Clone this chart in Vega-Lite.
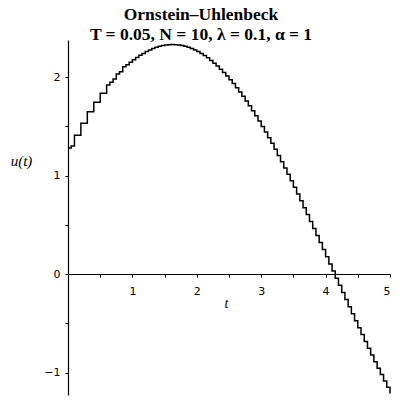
{
  "$schema": "https://vega.github.io/schema/vega-lite/v6.json",
  "width": 322,
  "height": 355,
  "autosize": "none",
  "padding": {"left": 68, "top": 40, "right": 10, "bottom": 5},
  "background": "white",
  "config": {"view": {"stroke": null}, "axis": {"grid": false}},
  "title": {
    "text": "Ornstein–Uhlenbeck",
    "subtitle": "T = 0.05, N = 10, λ = 0.1, α = 1",
    "font": "Liberation Serif",
    "fontSize": 17.5,
    "fontWeight": "bold",
    "color": "black",
    "subtitleFont": "Liberation Serif",
    "subtitleFontSize": 17.5,
    "subtitleFontWeight": "bold",
    "subtitleColor": "black",
    "subtitlePadding": 2,
    "anchor": "middle",
    "dx": -28,
    "offset": -3
  },
  "data": {"values": [
    {"t": 0, "u": 1.28}, {"t": 0.05, "u": 1.30}, {"t": 0.1, "u": 1.41}, {"t": 0.15, "u": 1.41},
    {"t": 0.2, "u": 1.53}, {"t": 0.25, "u": 1.53}, {"t": 0.3, "u": 1.648}, {"t": 0.35, "u": 1.648},
    {"t": 0.4, "u": 1.743}, {"t": 0.45, "u": 1.743}, {"t": 0.5, "u": 1.835}, {"t": 0.55, "u": 1.835},
    {"t": 0.6, "u": 1.919}, {"t": 0.65, "u": 1.946}, {"t": 0.7, "u": 1.98}, {"t": 0.75, "u": 2.03},
    {"t": 0.8, "u": 2.054}, {"t": 0.85, "u": 2.105}, {"t": 0.9, "u": 2.125}, {"t": 0.95, "u": 2.15},
    {"t": 1.0, "u": 2.175}, {"t": 1.05, "u": 2.198}, {"t": 1.1, "u": 2.22}, {"t": 1.15, "u": 2.24},
    {"t": 1.2, "u": 2.258}, {"t": 1.25, "u": 2.275}, {"t": 1.3, "u": 2.289}, {"t": 1.35, "u": 2.302},
    {"t": 1.4, "u": 2.312}, {"t": 1.45, "u": 2.32}, {"t": 1.5, "u": 2.326}, {"t": 1.55, "u": 2.329},
    {"t": 1.6, "u": 2.33}, {"t": 1.65, "u": 2.329}, {"t": 1.7, "u": 2.326}, {"t": 1.75, "u": 2.32},
    {"t": 1.8, "u": 2.312}, {"t": 1.85, "u": 2.302}, {"t": 1.9, "u": 2.289}, {"t": 1.95, "u": 2.275},
    {"t": 2.0, "u": 2.258}, {"t": 2.05, "u": 2.239}, {"t": 2.1, "u": 2.218}, {"t": 2.15, "u": 2.195},
    {"t": 2.2, "u": 2.169}, {"t": 2.25, "u": 2.141}, {"t": 2.3, "u": 2.112}, {"t": 2.35, "u": 2.08},
    {"t": 2.4, "u": 2.047}, {"t": 2.45, "u": 2.011}, {"t": 2.5, "u": 1.973}, {"t": 2.55, "u": 1.934},
    {"t": 2.6, "u": 1.892}, {"t": 2.65, "u": 1.849}, {"t": 2.7, "u": 1.804}, {"t": 2.75, "u": 1.757},
    {"t": 2.8, "u": 1.709}, {"t": 2.85, "u": 1.658}, {"t": 2.9, "u": 1.607}, {"t": 2.95, "u": 1.553},
    {"t": 3.0, "u": 1.498}, {"t": 3.05, "u": 1.442}, {"t": 3.1, "u": 1.384}, {"t": 3.15, "u": 1.327},
    {"t": 3.2, "u": 1.266}, {"t": 3.25, "u": 1.203}, {"t": 3.3, "u": 1.141}, {"t": 3.35, "u": 1.077},
    {"t": 3.4, "u": 1.012}, {"t": 3.45, "u": 0.946}, {"t": 3.5, "u": 0.88}, {"t": 3.55, "u": 0.812},
    {"t": 3.6, "u": 0.744}, {"t": 3.65, "u": 0.674}, {"t": 3.7, "u": 0.605}, {"t": 3.75, "u": 0.534},
    {"t": 3.8, "u": 0.463}, {"t": 3.85, "u": 0.392}, {"t": 3.9, "u": 0.32}, {"t": 3.95, "u": 0.248},
    {"t": 4.0, "u": 0.176}, {"t": 4.05, "u": 0.103}, {"t": 4.1, "u": 0.031}, {"t": 4.15, "u": -0.042},
    {"t": 4.2, "u": -0.114}, {"t": 4.25, "u": -0.187}, {"t": 4.3, "u": -0.259}, {"t": 4.35, "u": -0.331},
    {"t": 4.4, "u": -0.402}, {"t": 4.45, "u": -0.474}, {"t": 4.5, "u": -0.545}, {"t": 4.55, "u": -0.615},
    {"t": 4.6, "u": -0.685}, {"t": 4.65, "u": -0.754}, {"t": 4.7, "u": -0.822}, {"t": 4.75, "u": -0.89},
    {"t": 4.8, "u": -0.956}, {"t": 4.85, "u": -1.021}, {"t": 4.9, "u": -1.086}, {"t": 4.95, "u": -1.15},
    {"t": 5.0, "u": -1.213}
  ]},
  "mark": {"type": "line", "interpolate": "step-after", "color": "black", "strokeWidth": 1.5},
  "encoding": {
    "x": {
      "field": "t", "type": "quantitative",
      "scale": {"domain": [0, 5], "nice": false, "zero": false},
      "axis": {
        "offset": -121,
        "values": [0.5, 1, 1.5, 2, 2.5, 3, 3.5, 4, 4.5, 5],
        "format": "~g",
        "labelExpr": "datum.value % 1 === 0 ? datum.label : ''",
        "tickSize": 3, "tickColor": "black", "domainColor": "black", "domainWidth": 1.2,
        "labelColor": "black", "labelFont": "DejaVu Sans", "labelFontSize": 11, "labelPadding": 8,
        "title": "t", "titleFont": "Liberation Serif", "titleFontStyle": "italic", "titleFontWeight": "normal",
        "titleFontSize": 14, "titleColor": "black", "titleX": 158, "titleY": 29, "titleBaseline": "middle", "titleAlign": "center"
      }
    },
    "y": {
      "field": "u", "type": "quantitative",
      "scale": {"domain": [-1.228, 2.376], "nice": false, "zero": false},
      "axis": {
        "values": [-1, -0.5, 0, 0.5, 1, 1.5, 2],
        "format": "~g",
        "labelExpr": "datum.value % 1 === 0 ? datum.label : ''",
        "tickSize": 3, "tickColor": "black", "domainColor": "black", "domainWidth": 1.2,
        "labelColor": "black", "labelFont": "DejaVu Sans", "labelFontSize": 11, "labelPadding": 5,
        "title": "u(t)", "titleAngle": 0, "titleFont": "Liberation Serif", "titleFontStyle": "italic", "titleFontWeight": "normal",
        "titleFontSize": 15, "titleColor": "black", "titleX": -47, "titleY": 120, "titleBaseline": "middle", "titleAlign": "center"
      }
    }
  }
}
